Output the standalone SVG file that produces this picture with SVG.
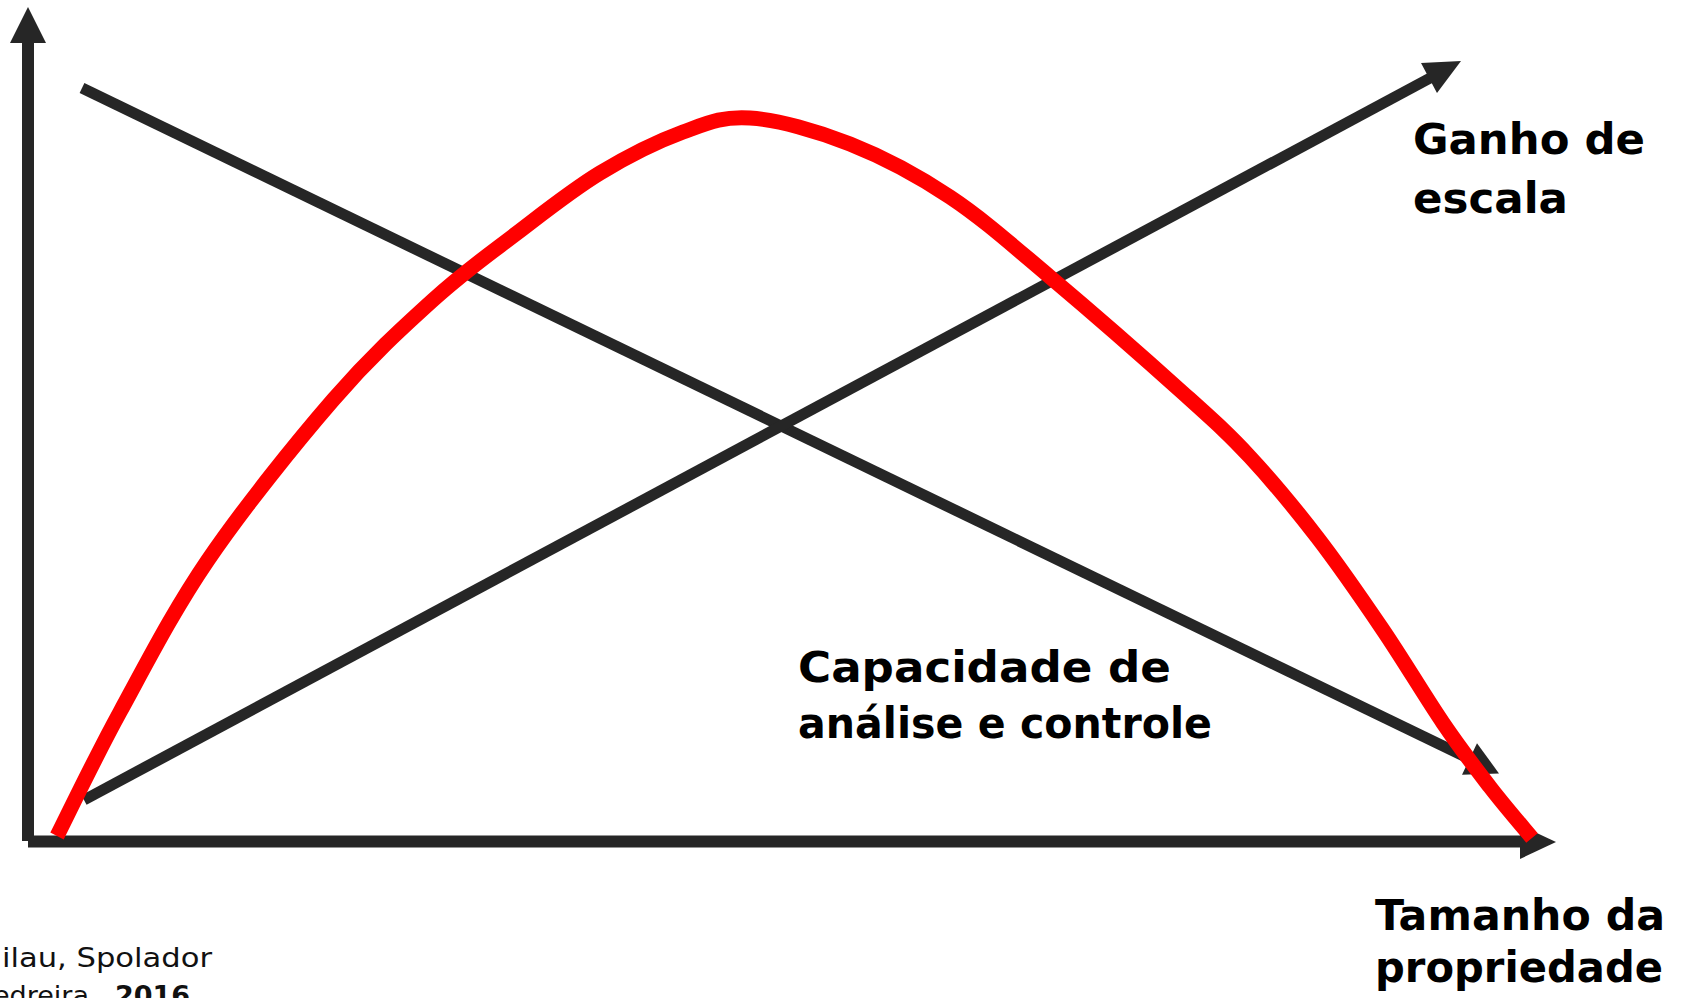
<svg xmlns="http://www.w3.org/2000/svg" width="1685" height="998" viewBox="0 0 1685 998">
  <style>
    .ax { stroke: #262626; stroke-width: 12; fill: none; }
    .ln { stroke: #262626; stroke-width: 11; fill: none; }
    .head { fill: #262626; }
    .red { stroke: #ff0000; stroke-width: 15; fill: none; stroke-linejoin: round; }
    .lbl { font-family: "DejaVu Sans", "Liberation Sans", sans-serif; font-weight: bold; font-size: 43px; fill: #000; }
    .src { font-family: "DejaVu Sans", "Liberation Sans", sans-serif; font-size: 27px; fill: #111; }
  </style>
  <rect width="1685" height="998" fill="#ffffff"/>
  <g id="connectors">
    <g id="axis-y">
      <line class="ax" x1="28" y1="40" x2="28" y2="841"/>
      <polygon class="head" points="28,7 10,43 46,43"/>
    </g>
    <g id="axis-x">
      <line class="ax" x1="28" y1="841.5" x2="1522" y2="841.5"/>
      <polygon class="head" points="1556,842 1520,825 1520,859"/>
    </g>
    <g id="line-falling">
      <line class="ln" x1="82" y1="88" x2="1472" y2="760"/>
      <polygon class="head" points="1499,773.4 1462,774.8 1477,743.3"/>
    </g>
    <g id="line-rising">
      <line class="ln" x1="84" y1="800" x2="1432" y2="77"/>
      <polygon class="head" points="1461,61 1421,63 1437,93"/>
    </g>
    <path id="curve-red" class="red" d="M57,836 C67.5,815.3 94.8,758 120,712 C145.2,666 172.5,612 208,560 C243.5,508 295.5,443.3 333,400 C370.5,356.7 402.3,327.8 433,300 C463.7,272.2 489.2,254.2 517,233 C544.8,211.8 572.3,189.8 600,173 C627.7,156.2 658,141.2 683,132 C708,122.8 722.2,116.2 750,118 C777.8,119.8 816.7,130.8 850,144 C883.3,157.2 916.7,174.8 950,197 C983.3,219.2 1011.2,244.3 1050,277 C1088.8,309.7 1149.7,363 1183,393 C1216.3,423 1227.7,433 1250,457 C1272.3,481 1294.8,508.2 1317,537 C1339.2,565.8 1362,599 1383,630 C1404,661 1425.2,696.8 1443,723 C1460.8,749.2 1475.2,767.8 1490,787 C1504.8,806.2 1525,829.5 1532,838"/>
  </g>
  <g id="label-ganho">
    <text class="lbl" x="1413" y="154" textLength="232" lengthAdjust="spacingAndGlyphs">Ganho de</text>
    <text class="lbl" x="1413" y="213" textLength="155" lengthAdjust="spacingAndGlyphs">escala</text>
  </g>
  <g id="label-capacidade">
    <text class="lbl" x="798" y="682" textLength="373" lengthAdjust="spacingAndGlyphs">Capacidade de</text>
    <text class="lbl" x="798" y="738" textLength="414" lengthAdjust="spacingAndGlyphs">análise e controle</text>
  </g>
  <g id="label-tamanho">
    <text class="lbl" x="1375" y="930" textLength="290" lengthAdjust="spacingAndGlyphs">Tamanho da</text>
    <text class="lbl" x="1375" y="982" textLength="288" lengthAdjust="spacingAndGlyphs">propriedade</text>
  </g>
  <g id="source">
    <text class="src" x="2" y="967" textLength="210" lengthAdjust="spacingAndGlyphs">ilau, Spolador</text>
    <text class="src" x="-7" y="1005">edreira,</text>
    <text class="src" x="115" y="1005" font-weight="bold">2016</text>
  </g>
</svg>
